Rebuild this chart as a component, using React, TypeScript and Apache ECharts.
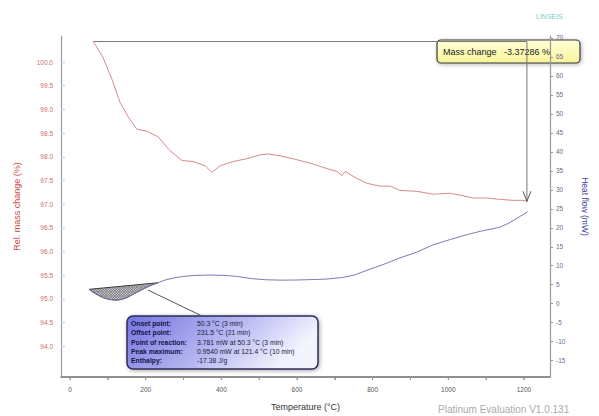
import React, { useEffect, useRef } from "react";
import * as echarts from "echarts";

// Thermogravimetric curve: temperature (°C) vs relative mass (%)
const massTemps = [61.6, 87, 111, 132, 153, 177, 204, 233, 264, 296, 325, 357, 375, 397, 431, 468, 502, 523, 555, 589, 608, 642, 679, 706, 719, 727, 759, 785, 819, 846, 872, 917, 960, 1004, 1031, 1065, 1102, 1137, 1171, 1197, 1208];
const massValues = [100.43286, 100.1, 99.63, 99.15, 98.85, 98.58, 98.54, 98.42, 98.13, 97.92, 97.9, 97.81, 97.67, 97.81, 97.9, 97.96, 98.04, 98.06, 98.02, 97.96, 97.92, 97.85, 97.75, 97.69, 97.6, 97.69, 97.54, 97.44, 97.38, 97.38, 97.29, 97.27, 97.21, 97.23, 97.19, 97.13, 97.13, 97.1, 97.08, 97.08, 97.06];

// DSC curve: temperature (°C) vs heat flow (mW)
const heatTemps = [50.3, 60, 75, 90, 105, 121.4, 135, 150, 165, 180, 200, 215, 231.5, 250, 275, 300, 330, 370, 410, 440, 480, 520, 560, 600, 640, 680, 720, 750, 785, 830, 870, 915, 960, 1005, 1050, 1090, 1135, 1160, 1190, 1210];
const heatValues = [3.781, 3.1, 2.2, 1.5, 1.1, 0.954, 1.1, 1.6, 2.4, 3.2, 4.2, 4.9, 5.5, 6.2, 6.8, 7.2, 7.45, 7.55, 7.45, 7.2, 6.6, 6.3, 6.2, 6.25, 6.35, 6.5, 6.9, 7.5, 8.8, 10.4, 12.0, 13.5, 15.5, 16.9, 18.2, 19.2, 20.1, 21.2, 23.0, 24.2];

// Axis tick labels
const tempLabels = [0, 200, 400, 600, 800, 1000, 1200];
const tempTicks = [0, 100, 200, 300, 400, 500, 600, 700, 800, 900, 1000, 1100, 1200];
const massLabels = [94.0, 94.5, 95.0, 95.5, 96.0, 96.5, 97.0, 97.5, 98.0, 98.5, 99.0, 99.5, 100.0];
const heatLabels = [-15, -10, -5, 0, 5, 10, 15, 20, 25, 30, 35, 40, 45, 50, 55, 60, 65, 70];

// Axis ranges
const tempMin = -24;
const tempMax = 1269;
const massMin = 93.35;
const massMax = 100.55;
const heatMin = -19.3;
const heatMax = 70.5;

// Peak evaluation results
const onsetTemp = 50.3;
const offsetTemp = 231.5;
const reactionValue = 3.781;
const peakTemp = 121.4;
const peakValue = 0.954;
const enthalpyText = "-17.38 J/g";

const FONT = "'Liberation Sans', Arial, sans-serif";

export default function App() {
  const ref = useRef<HTMLDivElement>(null);

  useEffect(() => {
    document.body.style.margin = "0";
    if (!ref.current) return;
    const chart = echarts.init(ref.current, undefined, { renderer: "svg" });

    const massData = massTemps.map((t, i) => [t, massValues[i]]);
    const heatData = heatTemps.map((t, i) => [t, heatValues[i]]);
    const massStart = massValues[0];
    const massEnd = massValues[massValues.length - 1];
    const tStart = massTemps[0];
    const tEnd = massTemps[massTemps.length - 1];
    const massChange = massEnd - massStart;

    const hatchIdx = heatTemps
      .map((t, i) => i)
      .filter((i) => heatTemps[i] >= onsetTemp && heatTemps[i] <= offsetTemp);

    const renderHatch = (params: any, api: any) => {
      const pts = hatchIdx.map((i) => api.coord([heatTemps[i], heatValues[i]]));
      const children: any[] = [
        {
          type: "polygon",
          shape: { points: pts },
          style: { fill: "#d4d4d8", stroke: "#333", lineWidth: 1 },
        },
      ];
      const step = 2.6;
      // diagonal hatch in both directions, clipped to the polygon
      [1, -1].forEach((dir) => {
        const f = (p: number[]) => p[1] - dir * p[0];
        const vals = pts.map(f);
        const cMin = Math.min(...vals);
        const cMax = Math.max(...vals);
        for (let c = cMin + step / 2; c < cMax; c += step) {
          const hits: number[][] = [];
          for (let i = 0; i < pts.length; i++) {
            const P = pts[i];
            const Q = pts[(i + 1) % pts.length];
            const fP = f(P) - c;
            const fQ = f(Q) - c;
            if (fP < 0 !== fQ < 0) {
              const t = fP / (fP - fQ);
              hits.push([P[0] + t * (Q[0] - P[0]), P[1] + t * (Q[1] - P[1])]);
            }
          }
          hits.sort((a, b) => a[0] - b[0]);
          for (let k = 0; k + 1 < hits.length; k += 2) {
            children.push({
              type: "line",
              shape: { x1: hits[k][0], y1: hits[k][1], x2: hits[k + 1][0], y2: hits[k + 1][1] },
              style: { stroke: "#555", lineWidth: 0.6 },
            });
          }
        }
      });
      return { type: "group", children };
    };

    const infoRows = [
      ["Onset point:", `${onsetTemp.toFixed(1)} °C (3 min)`],
      ["Offset point:", `${offsetTemp.toFixed(1)} °C (21 min)`],
      ["Point of reaction:", `${reactionValue.toFixed(3)} mW at ${onsetTemp.toFixed(1)} °C (3 min)`],
      ["Peak maximum:", `${peakValue.toFixed(4)} mW at ${peakTemp.toFixed(1)} °C (10 min)`],
      ["Enthalpy:", enthalpyText],
    ];

    const boxX = 127;
    const boxY = 316;
    const infoChildren: any[] = [
      {
        type: "rect",
        shape: { x: boxX, y: boxY, width: 191, height: 53, r: 6 },
        style: {
          fill: new echarts.graphic.LinearGradient(0, 0, 1, 0.3, [
            { offset: 0, color: "#7474e0" },
            { offset: 0.55, color: "#b4b4f0" },
            { offset: 1, color: "#f4f4ff" },
          ]),
          stroke: "#2c2c58",
          lineWidth: 1.5,
          shadowBlur: 4,
          shadowColor: "rgba(0,0,0,0.35)",
          shadowOffsetX: 1,
          shadowOffsetY: 1,
        },
      },
    ];
    infoRows.forEach((row, i) => {
      const y = boxY + 7.5 + i * 9.3;
      infoChildren.push({
        type: "text",
        style: { x: boxX + 4, y, text: row[0], fontSize: 6.8, fontWeight: "bold", fill: "#14144a", fontFamily: FONT, verticalAlign: "middle" },
      });
      infoChildren.push({
        type: "text",
        style: { x: boxX + 70, y, text: row[1], fontSize: 6.8, fill: "#1c1c40", fontFamily: FONT, verticalAlign: "middle" },
      });
    });

    const option: any = {
      animation: false,
      backgroundColor: "#ffffff",
      textStyle: { fontFamily: FONT },
      grid: { left: 61, right: 49, top: 36, bottom: 35 },
      xAxis: {
        type: "value",
        position: "bottom",
        min: tempMin,
        max: tempMax,
        name: "Temperature (°C)",
        nameLocation: "middle",
        nameGap: 25,
        nameTextStyle: { fontSize: 9, color: "#333", fontFamily: FONT },
        axisLine: { show: true, onZero: false, lineStyle: { color: "#8a8a8a", width: 1.5 } },
        axisTick: { show: true, customValues: tempTicks, length: 3, lineStyle: { color: "#999" } },
        axisLabel: {
          customValues: tempLabels,
          fontSize: 6.5,
          color: "#555",
          margin: 9,
          formatter: (v: number) => String(v),
        },
        splitLine: { show: false },
      },
      yAxis: [
        {
          type: "value",
          position: "left",
          min: massMin,
          max: massMax,
          name: "Rel. mass change (%)",
          nameLocation: "middle",
          nameGap: 40,
          nameRotate: 90,
          nameTextStyle: { fontSize: 9, color: "#cc4a4a", fontFamily: FONT },
          axisLine: { show: true, onZero: false, lineStyle: { color: "#999", width: 1.2 } },
          axisTick: { show: true, inside: true, customValues: massLabels, length: 4, lineStyle: { color: "#ccc" } },
          axisLabel: {
            customValues: massLabels,
            fontSize: 6.5,
            color: "#d06a6a",
            margin: 8,
            formatter: (v: number) => v.toFixed(1),
          },
          splitLine: { show: false },
        },
        {
          type: "value",
          position: "right",
          min: heatMin,
          max: heatMax,
          name: "Heat flow (mW)",
          nameLocation: "middle",
          nameGap: 30,
          nameRotate: -90,
          nameTextStyle: { fontSize: 8.5, color: "#4646a0", fontFamily: FONT },
          axisLine: { show: true, onZero: false, lineStyle: { color: "#999", width: 1.2 } },
          axisTick: { show: true, customValues: heatLabels, length: 3, lineStyle: { color: "#999" } },
          axisLabel: { customValues: heatLabels, fontSize: 6.5, color: "#6a6a8a", margin: 6 },
          splitLine: { show: false },
        },
      ],
      series: [
        {
          name: "hatch",
          type: "custom",
          xAxisIndex: 0,
          yAxisIndex: 1,
          data: [[onsetTemp, reactionValue]],
          renderItem: renderHatch,
          z: 1,
        },
        {
          name: "Heat flow",
          type: "line",
          yAxisIndex: 1,
          data: heatData,
          symbol: "none",
          lineStyle: { color: "#7c7cb4", width: 1 },
          z: 2,
        },
        {
          name: "Mass",
          type: "line",
          yAxisIndex: 0,
          data: massData,
          symbol: "none",
          lineStyle: { color: "#d88a8a", width: 1 },
          z: 2,
        },
        {
          name: "Mass step",
          type: "line",
          yAxisIndex: 0,
          data: [
            [tStart, massStart],
            [tEnd, massStart],
            [tEnd, massEnd],
          ],
          showSymbol: true,
          symbol: (v: any, p: any) => (p.dataIndex === 2 ? "path://M0 0 L5 10 L10 0" : "none"),
          symbolSize: [8, 10],
          symbolOffset: [0, "-50%"],
          itemStyle: { color: "rgba(0,0,0,0)", borderColor: "#555", borderWidth: 1 },
          lineStyle: { color: "#777", width: 1 },
          z: 3,
        },
      ],
      graphic: [],
    };

    chart.setOption(option);

    const toPx = (v: number[]) => chart.convertToPixel({ xAxisIndex: 0, yAxisIndex: 1 }, v) as number[];
    const anchor = toPx([206, 3.6]);
    const frameL = toPx([tempMin, heatMin]);
    const frameR = toPx([tempMax, heatMin]);

    // bottom frame line and its ticks
    const frameChildren: any[] = [
      {
        type: "line",
        shape: { x1: frameL[0], y1: frameL[1], x2: frameR[0], y2: frameR[1] },
        style: { stroke: "#8a8a8a", lineWidth: 1.5 },
      },
    ];
    tempTicks.forEach((t) => {
      const p = toPx([t, heatMin]);
      frameChildren.push({
        type: "line",
        shape: { x1: p[0], y1: p[1], x2: p[0], y2: p[1] + 3 },
        style: { stroke: "#999", lineWidth: 1 },
      });
    });

    chart.setOption({
      graphic: [
        { type: "group", z: 40, children: frameChildren },
        {
          type: "line",
          z: 50,
          shape: { x1: anchor[0], y1: anchor[1], x2: 202, y2: boxY },
          style: { stroke: "#555", lineWidth: 1 },
        },
        { type: "group", z: 60, children: infoChildren },
        {
          type: "group",
          z: 60,
          children: [
            {
              type: "rect",
              shape: { x: 437, y: 40, width: 143, height: 23, r: 4 },
              style: {
                fill: new echarts.graphic.LinearGradient(0, 0, 0, 1, [
                  { offset: 0, color: "#ffffd8" },
                  { offset: 1, color: "#f8f49a" },
                ]),
                stroke: "#3a3a3a",
                lineWidth: 1.2,
                shadowBlur: 4,
                shadowColor: "rgba(0,0,0,0.3)",
                shadowOffsetX: 1,
                shadowOffsetY: 1,
              },
            },
            {
              type: "text",
              style: {
                x: 443,
                y: 52,
                text: `Mass change   ${massChange.toFixed(5)} %`,
                fontSize: 9,
                fill: "#222",
                fontFamily: FONT,
                verticalAlign: "middle",
              },
            },
          ],
        },
        {
          type: "text",
          z: 60,
          style: { x: 536, y: 16, text: "LINSEIS", fontSize: 7, fill: "#7ccaca", fontFamily: FONT, verticalAlign: "middle" },
        },
        {
          type: "text",
          z: 60,
          style: { x: 438, y: 409, text: "Platinum Evaluation V1.0.131", fontSize: 10, fill: "#aaaaaa", fontFamily: FONT, verticalAlign: "middle" },
        },
      ],
    });

    return () => chart.dispose();
  }, []);

  return <div ref={ref} style={{ position: "fixed", left: 0, top: 0, width: 599, height: 416 }} />;
}
